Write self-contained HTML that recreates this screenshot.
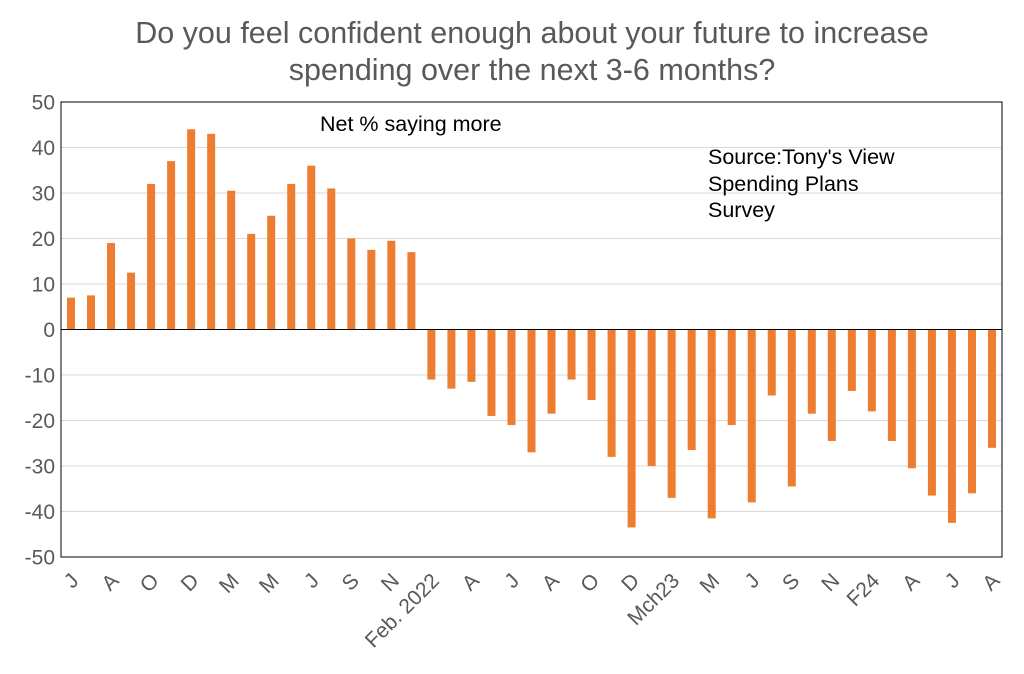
<!DOCTYPE html>
<html><head><meta charset="utf-8"><style>
body{margin:0;background:#fff;font-family:"Liberation Sans",Arial,sans-serif}
</style></head><body>
<svg id="chart" width="1024" height="669" xmlns="http://www.w3.org/2000/svg" font-family="Liberation Sans, Arial, sans-serif">
<text x="532" y="43" text-anchor="middle" font-size="30.5" fill="#595959">Do you feel confident enough about your future to increase</text>
<text x="532" y="80" text-anchor="middle" font-size="30.5" fill="#595959">spending over the next 3-6 months?</text>
<g id="grid"></g><g id="bars"></g><g id="axes"></g>
<rect x="61" y="102" width="941" height="455" fill="none" stroke="#000" stroke-width="1"/>
<text x="320" y="131" font-size="21.5" fill="#000">Net % saying more</text>
<text font-size="21.5" fill="#000"><tspan x="708" y="164">Source:Tony's View</tspan><tspan x="708" y="191">Spending Plans</tspan><tspan x="708" y="217">Survey</tspan></text>
</svg>
<script>
const values=[7,7.5,19,12.5,32,37,44,43,30.5,21,25,32,36,31,20,17.5,19.5,17,-11,-13,-11.5,-19,-21,-27,-18.5,-11,-15.5,-28,-43.5,-30,-37,-26.5,-41.5,-21,-38,-14.5,-34.5,-18.5,-24.5,-13.5,-18,-24.5,-30.5,-36.5,-42.5,-36,-26];
const xLabels=["J","A","O","D","M","M","J","S","N","Feb. 2022","A","J","A","O","D","Mch23","M","J","S","N","F24","A","J","A"];
const yTicks=[50,40,30,20,10,0,-10,-20,-30,-40,-50];
const NS="http://www.w3.org/2000/svg";
const L=61,R=1002,T=102,B=557,yMax=50,yMin=-50;
const y=v=>T+(yMax-v)/(yMax-yMin)*(B-T);
const step=(R-L)/values.length;
const x=i=>L+step*(i+0.5);
function mk(tag,attrs,parent){const e=document.createElementNS(NS,tag);for(const k in attrs)e.setAttribute(k,attrs[k]);document.getElementById(parent).appendChild(e);return e;}
yTicks.forEach(t=>{
  if(t!==yMax&&t!==yMin&&t!==0){const g=mk('line',{x1:L,x2:R,y1:y(t),y2:y(t),stroke:'#d9d9d9','stroke-width':1},'grid');
  
  }
  const tx=mk('text',{x:L-6,y:y(t)+7.5,'text-anchor':'end','font-size':21,fill:'#595959'},'axes');
  tx.textContent=t;
  
  
});
values.forEach((v,i)=>{
  const r=mk('rect',{x:x(i)-4,y:Math.min(y(v),y(0)),width:8,height:Math.abs(y(v)-y(0)),fill:'#ED7D31'},'bars');
  
  
});
const z=mk('line',{x1:L,x2:R,y1:y(0),y2:y(0),stroke:'#000','stroke-width':1},'axes');


xLabels.forEach((s,j)=>{
  const cx=x(j*2),cy=B+20;
  const t=mk('text',{x:cx+4,y:cy+7,'text-anchor':'end','font-size':21,fill:'#595959',transform:`rotate(-45 ${cx+4} ${cy})`},'axes');
  t.textContent=s;
  
  
});
</script>
</body></html>
